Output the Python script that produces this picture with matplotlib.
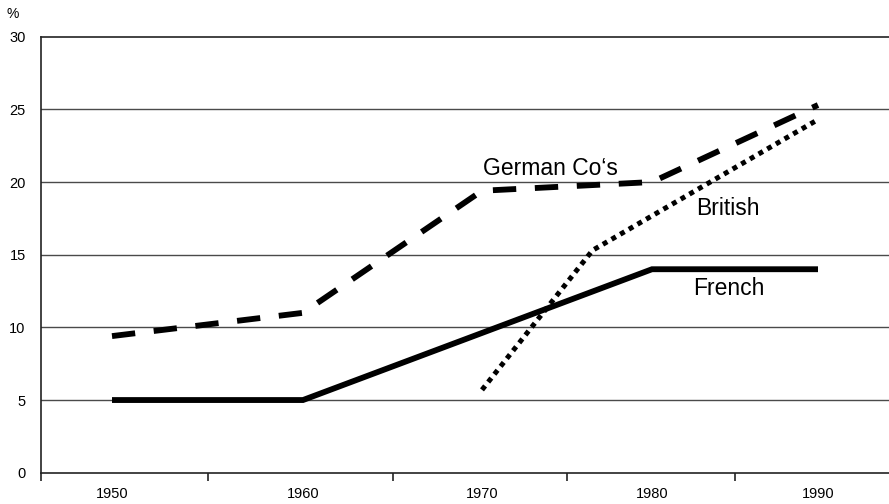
import numpy as np
import matplotlib
matplotlib.use("Agg")
import matplotlib.pyplot as plt
from matplotlib.scale import FuncScale

# ---- data ----
years = [1950, 1960, 1970, 1980, 1990]
tick_labels = ["1950", "1960", "1970", "1980", "1990"]

french_x = [1950, 1960, 1980, 1990]
french_y = [5.0, 5.0, 14.0, 14.0]

german_x = [1950, 1960, 1970, 1980, 1990]
german_y = [9.4, 11.0, 19.4, 20.0, 25.3]

british_x = [1970, 1976.5, 1990]
british_y = [5.7, 15.3, 24.3]

plt.rcParams['font.family'] = ['Liberation Sans', 'DejaVu Sans']

W, H = 889, 504
fig = plt.figure(figsize=(W / 100, H / 100), dpi=100)

# axes placement (pixels)
x0, x1 = 41, 903
y_top, y_bot = 36.7, 472.7
ax = fig.add_axes([x0 / W, (H - y_bot) / H, (x1 - x0) / W, (y_bot - y_top) / H])

# slightly uneven horizontal category spacing, as in the reference
kn_year = np.array([1900, 1945, 1950, 1960, 1970, 1980, 1990, 1995, 2100], float)
kn_pos = np.array([-598, 41, 112, 303, 482, 652, 818, 903, 2688], float)

def fwd(v):
    return np.interp(v, kn_year, kn_pos)

def inv(v):
    return np.interp(v, kn_pos, kn_year)

ax.set_xscale(FuncScale(ax, (fwd, inv)))
ax.set_xlim(1945, 1995)
ax.set_ylim(0, 30)

# grid
for v in [5, 10, 15, 20, 25]:
    ax.axhline(v, color='#4a4a4a', lw=1.0, zorder=1)

# lines
ax.plot(french_x, french_y, color='black', lw=4.2, solid_capstyle='butt',
        solid_joinstyle='miter', zorder=3)
ax.plot(german_x, german_y, color='black', lw=4.2, linestyle=(0, (4.0, 3.2)),
        dash_capstyle='butt', zorder=3)
ax.plot(british_x, british_y, color='black', lw=3.6, linestyle=(0, (1.0, 1.0)),
        dash_capstyle='butt', zorder=3)

# spines
for s in ['top', 'left', 'bottom']:
    ax.spines[s].set_color('#222222')
    ax.spines[s].set_linewidth(1.2)
ax.spines['right'].set_visible(False)

# ticks
ax.set_yticks([0, 5, 10, 15, 20, 25, 30])
ax.set_yticklabels([str(v) for v in [0, 5, 10, 15, 20, 25, 30]])
ax.tick_params(axis='y', length=0, pad=11, labelsize=10.5, colors='black')

ax.set_xticks(years)
ax.set_xticklabels(tick_labels)
ax.set_xticks([1945, 1955, 1965, 1975, 1985], minor=True)
ax.tick_params(axis='x', which='major', length=0, pad=10, labelsize=10.5)
ax.tick_params(axis='x', which='minor', length=6, width=1.2, direction='out',
               color='#222222')

# labels
fig.text(13 / W, 1 - 14 / H, '%', ha='center', va='center', fontsize=10)
fig.text(483 / W, 1 - 175 / H, 'German Co\u2018s', ha='left', va='baseline', fontsize=16.5)
fig.text(728 / W, 1 - 215 / H, 'British', ha='center', va='baseline', fontsize=16.5)
fig.text(729 / W, 1 - 295 / H, 'French', ha='center', va='baseline', fontsize=16.5)

fig.savefig('out.png', dpi=100)
